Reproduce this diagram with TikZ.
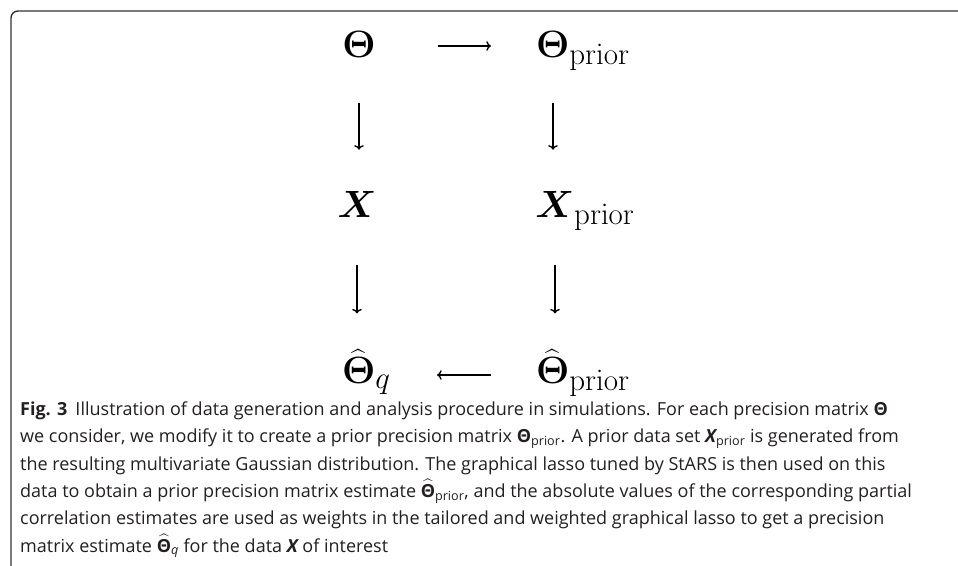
\documentclass[tikz,border=0pt]{standalone}
\usepackage{fix-cm}
\usepackage{amsmath}
\usepackage{mathtools}
\usepackage[no-math]{fontspec}
\usetikzlibrary{arrows.meta}
\newfontfamily\capfont{Open Sans}

% larger subscripts for the big diagram entries
\DeclareMathSizes{38}{38}{31}{22}

% narrow hat, centred over its argument
\newcommand{\narrowhat}[1]{\begingroup\setbox0=\hbox{$#1$}%
  \mathrlap{#1}\mathmakebox[\wd0]{\widehat{\vphantom{#1}\hphantom{\mathrm{n}}}}\endgroup}

\begin{document}
\begin{tikzpicture}[x=1pt, y=1pt, >={Computer Modern Rightarrow}]

  % Colors
  \definecolor{framecolor}{HTML}{333333}
  \definecolor{captext}{HTML}{231F20}

  \tikzset{
    entry/.style={inner sep=0pt, text depth=0pt, anchor=base, font=\fontsize{38}{44}\selectfont},
    maparrow/.style={->, line width=1.35pt},
  }

  \useasboundingbox (0,0) rectangle (958,-565);

  % Frame round the figure (top and left side only)
  \draw[framecolor, line width=1.4pt, rounded corners=7pt] (11,-566) -- (11,-11) -- (959,-11);

  % Top row
  \node[entry] (th)  at (359,-57) {$\boldsymbol{\Theta}$};
  \node[entry] (thp) at (553,-57) {$\boldsymbol{\Theta}_{\mathrlap{\mathrm{prior}}}$};

  % Middle row
  \node[entry] (x)  at (357,-217) {$\boldsymbol{X}$};
  \node[entry] (xp) at (555,-217) {$\boldsymbol{X}_{\mathrlap{\mathrm{prior}}}$};

  % Bottom row
  \node[entry] (thq)  at (359,-383) {$\narrowhat{\boldsymbol{\Theta}}_{\mathrlap{q}}$};
  \node[entry] (thpp) at (553,-383) {$\narrowhat{\boldsymbol{\Theta}}_{\mathrlap{\mathrm{prior}}}$};

  % Maps between the entries
  \draw[maparrow, shorten <=62pt, shorten >=45pt] ([yshift=11pt]th.base east) -- ([yshift=11pt]thp.base west);
  \draw[maparrow, shorten <=46pt, shorten >=41pt] (th.south) -- (th.south |- x.north);
  \draw[maparrow, shorten <=46pt, shorten >=41pt] (thp.south) -- (thp.south |- xp.north);
  \draw[maparrow, shorten <=48pt, shorten >=36pt] (x.south) -- (x.south |- thq.north);
  \draw[maparrow, shorten <=48pt, shorten >=36pt] (xp.south) -- (xp.south |- thpp.north);
  \draw[maparrow, shorten <=45pt, shorten >=61pt] ([yshift=8pt]thpp.base west) -- ([yshift=8pt]thq.base east);

  % Caption (base anchor sits on the last line)
  \node[anchor=base west, align=left, inner sep=0pt, text=captext,
        font=\capfont\fontsize{18}{27.3}\selectfont] (caption) at (20,-552)
    {\textbf{Fig. 3}\hspace{0.45em}Illustration of data generation and analysis procedure in simulations. For each precision matrix \textbf{Θ}\\
     we consider, we modify it to create a prior precision matrix \textbf{Θ}\textsubscript{prior}. A prior data set {\bfseries\itshape X}\textsubscript{prior} is generated from\\
     the resulting multivariate Gaussian distribution. The graphical lasso tuned by StARS is then used on this\\
     data to obtain a prior precision matrix estimate $\widehat{\text{\bfseries Θ}}$\textsubscript{prior}, and the absolute values of the corresponding partial\\
     correlation estimates are used as weights in the tailored and weighted graphical lasso to get a precision\\
     matrix estimate $\widehat{\text{\bfseries Θ}}$\textsubscript{\itshape q} for the data {\bfseries\itshape X} of interest};

\end{tikzpicture}
\end{document}
